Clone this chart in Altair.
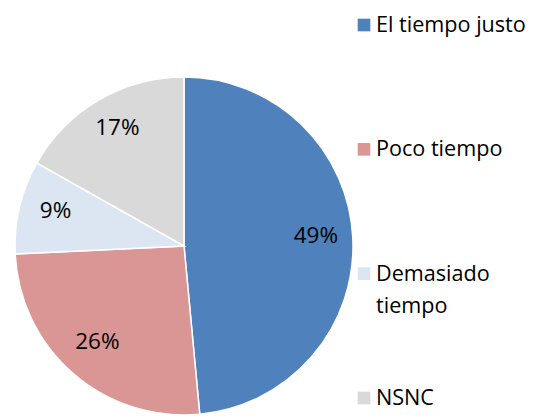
import altair as alt
import pandas as pd

categories = ["El tiempo justo", "Poco tiempo", "Demasiado tiempo", "NSNC"]
values = [49, 26, 9, 17]
legend_labels = ["El tiempo justo", "Poco tiempo", "Demasiado\ntiempo", "NSNC"]
colors = ["#4F81BD", "#DA9694", "#DCE6F2", "#D9D9D9"]

df = pd.DataFrame({
    "cat": categories,
    "value": values,
    "order": list(range(len(categories))),
    "label": [f"{v}%" for v in values],
    "legend": legend_labels,
})

FONT = "Open Sans"
FS = 22.5
LFS = 21.6
cx, cy = 176, 238

color = alt.Color("cat:N", scale=alt.Scale(domain=categories, range=colors), legend=None)

base = alt.Chart(df)

pie = base.mark_arc(radius=169, stroke="white", strokeWidth=1.5).encode(
    theta=alt.Theta("value:Q", stack=True),
    order=alt.Order("order:Q"),
    color=color,
    x=alt.value(cx),
    y=alt.value(cy),
)

pie_labels = base.mark_text(radius=132, font=FONT, fontSize=FS, color="black").encode(
    theta=alt.Theta("value:Q", stack=True),
    order=alt.Order("order:Q"),
    text="label:N",
    x=alt.value(cx),
    y=alt.value(cy - 4),
)

yscale = alt.Scale(type="point", domain=categories, range=[17, 390], padding=0)

leg_sq = base.mark_square(size=160, opacity=1).encode(
    y=alt.Y("cat:N", scale=yscale, axis=None),
    x=alt.value(356),
    color=color,
)

leg_txt = base.mark_text(align="left", baseline="top", dy=-10, font=FONT, fontSize=LFS,
                         lineBreak="\n", lineHeight=32, color="black").encode(
    y=alt.Y("cat:N", scale=yscale, axis=None),
    x=alt.value(368),
    text="legend:N",
)

chart = alt.layer(pie, pie_labels, leg_sq, leg_txt).properties(
    width=524, height=410, padding=0, autosize=alt.AutoSizeParams(type="none")
).configure_view(stroke=None)

chart.save("out.html", embed_options={"renderer": "svg", "actions": False})
